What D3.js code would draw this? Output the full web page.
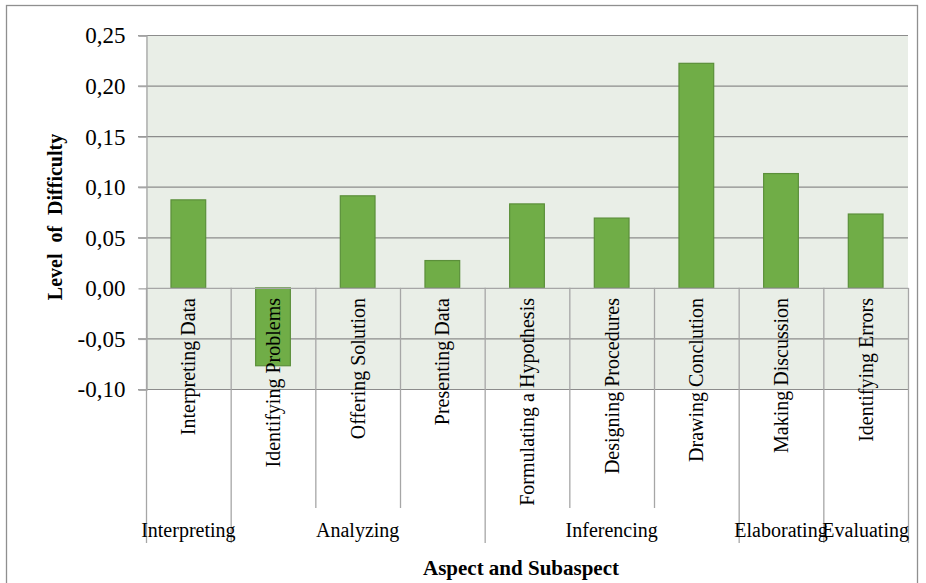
<!DOCTYPE html>
<html>
<head>
<meta charset="utf-8">
<script src="https://cdn.jsdelivr.net/npm/d3@7"></script>
<style>
  body { margin: 0; background: #fff; }
  text { font-family: "Liberation Serif", "DejaVu Serif", serif; fill: #000; }
</style>
</head>
<body>
<div id="chart"></div>
<script>
// data
let categories = ['Interpreting Data', 'Identifying Problems', 'Offering Solution', 'Presenting Data',
    'Formulating a Hypothesis', 'Designing Procedures', 'Drawing Conclution', 'Making Discussion', 'Identifying Errors'];
let values = [0.087, -0.077, 0.091, 0.027, 0.083, 0.069, 0.222, 0.113, 0.073];
let groups = ['Interpreting', 'Analyzing', 'Inferencing', 'Elaborating', 'Evaluating'];
let groupSizes = [1, 3, 3, 1, 1];
let yTicks = [-0.10, -0.05, 0.00, 0.05, 0.10, 0.15, 0.20, 0.25];

let svgWidth = 926, svgHeight = 583;
let plot = { left: 146, right: 908, top: 35, bottom: 389 };

let svg = d3.select('#chart').append('svg')
    .attr('width', svgWidth)
    .attr('height', svgHeight);

// outer frame
svg.append('rect')
    .attr('x', 6.5).attr('y', 5.5)
    .attr('width', 911).attr('height', 600)
    .attr('fill', 'none')
    .attr('stroke', '#8f8f8f')
    .attr('stroke-width', 1.3);

let x = d3.scaleBand()
    .domain(categories)
    .range([plot.left, plot.right])
    .paddingInner(0.59)
    .paddingOuter(0.295);

let y = d3.scaleLinear()
    .domain([-0.10, 0.25])
    .range([plot.bottom, plot.top]);

// plot background
svg.append('rect')
    .attr('x', plot.left).attr('y', plot.top)
    .attr('width', plot.right - plot.left)
    .attr('height', plot.bottom - plot.top)
    .attr('fill', '#e9eee7');

// gridlines
svg.append('g')
    .selectAll('line')
    .data(yTicks.filter(d => d != 0))
    .enter()
    .append('line')
    .attr('x1', plot.left - 8)
    .attr('x2', plot.right)
    .attr('y1', d => y(d) + 0.5)
    .attr('y2', d => y(d) + 0.5)
    .attr('stroke', '#8c8c8c')
    .attr('stroke-width', 1.2);

// y axis
let axis_y = d3.axisLeft(y)
    .tickValues(yTicks)
    .tickSize(8)
    .tickPadding(13)
    .tickFormat(d => d3.format('.2f')(d).replace('.', ',').replace('−', '-'));

let gy = svg.append('g')
    .attr('transform', `translate(${plot.left + 0.5}, 0.5)`)
    .call(axis_y);
gy.select('.domain').attr('stroke', '#a6a6a6').attr('stroke-width', 1.3);
gy.selectAll('.tick line').attr('stroke', '#a6a6a6').attr('stroke-width', 1.3);
gy.selectAll('.tick text')
    .attr('font-family', 'Liberation Serif')
    .attr('font-size', '23px')
    .attr('fill', '#000');

// bars
svg.append('g')
    .selectAll('rect')
    .data(values)
    .enter()
    .append('rect')
    .attr('x', (d, i) => x(categories[i]))
    .attr('y', d => y(Math.max(0, d)))
    .attr('width', x.bandwidth())
    .attr('height', d => Math.abs(y(d) - y(0)))
    .attr('fill', '#70ad47')
    .attr('stroke', '#5b8f3a')
    .attr('stroke-width', 1.2);

// category axis line
svg.append('line')
    .attr('x1', plot.left).attr('x2', plot.right)
    .attr('y1', y(0) + 0.5).attr('y2', y(0) + 0.5)
    .attr('stroke', '#a6a6a6')
    .attr('stroke-width', 1.3);

// category dividers
let step = x.step();
let groupEdges = [0];
groupSizes.forEach(n => groupEdges.push(groupEdges[groupEdges.length - 1] + n));
let edges = d3.range(categories.length + 1);
svg.append('g')
    .selectAll('line')
    .data(edges)
    .enter()
    .append('line')
    .attr('x1', d => plot.left + d * step + 0.5)
    .attr('x2', d => plot.left + d * step + 0.5)
    .attr('y1', y(0))
    .attr('y2', d => groupEdges.includes(d) ? 543 : 508)
    .attr('stroke', '#a6a6a6')
    .attr('stroke-width', 1.3);

// category labels
svg.append('g')
    .selectAll('text')
    .data(categories)
    .enter()
    .append('text')
    .attr('transform', d => `translate(${x(d) + x.bandwidth() / 2}, 298) rotate(-90)`)
    .attr('text-anchor', 'end')
    .attr('dy', '0.35em')
    .attr('font-size', '20px')
    .text(d => d);

// group labels
svg.append('g')
    .selectAll('text')
    .data(groups)
    .enter()
    .append('text')
    .attr('x', (d, i) => plot.left + (groupEdges[i] + groupEdges[i + 1]) / 2 * step)
    .attr('y', 537)
    .attr('text-anchor', 'middle')
    .attr('font-size', '20px')
    .text(d => d);

// axis titles
svg.append('text')
    .attr('transform', 'translate(62, 217) rotate(-90)')
    .attr('text-anchor', 'middle')
    .attr('font-size', '20px')
    .attr('font-weight', 'bold')
    .attr('word-spacing', '6px')
    .text('Level of Difficulty');

svg.append('text')
    .attr('x', 521)
    .attr('y', 575)
    .attr('text-anchor', 'middle')
    .attr('font-size', '21px')
    .attr('font-weight', 'bold')
    .text('Aspect and Subaspect');
</script>
</body>
</html>
